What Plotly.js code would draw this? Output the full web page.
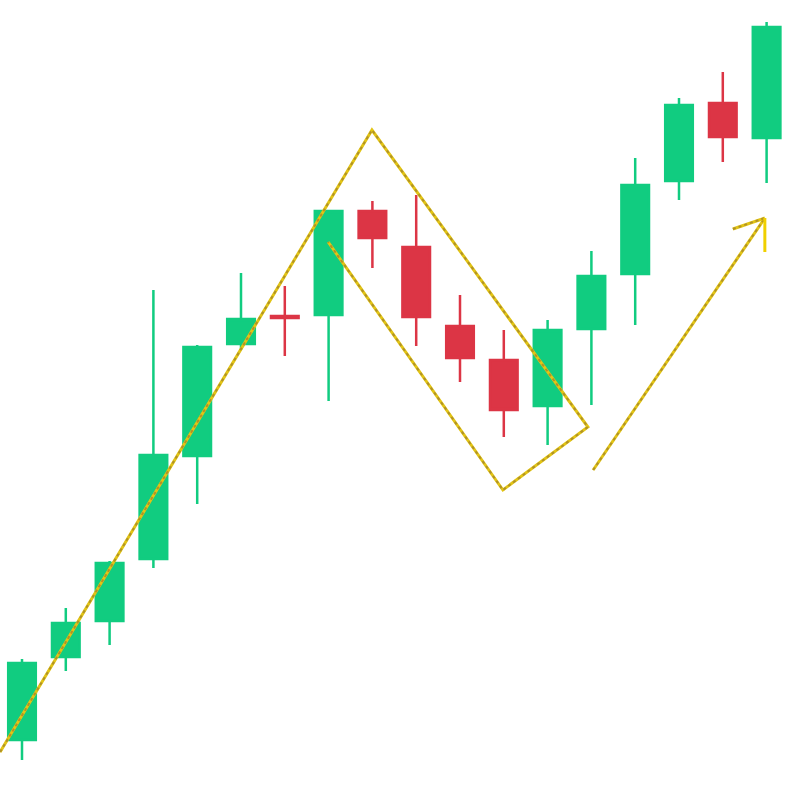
<!DOCTYPE html>
<html>
<head>
<meta charset="utf-8">
<script src="https://cdn.plot.ly/plotly-3.0.1.min.js"></script>
<style>html,body{margin:0;padding:0;background:#fff;}#chart{width:800px;height:800px;}</style>
</head>
<body>
<div id="chart"></div>
<script>
var idx   = [0,1,2,3,4,5,6,7,8,9,10,11,12,13,14,15,16,17];
var open  = [60,143,179,241,344,456,484,485,589,553,474,440,394,471,526,619,697,662];
var high  = [141,192,239,510,455,527,514,590,599,605,505,470,480,549,642,702,728,778];
var low   = [40,129,155,232,296,450,444,399,532,454,418,363,355,395,475,600,638,617];
var close = [137,177,237,345,453,481,482,589,562,483,442,390,470,524,615,695,663,773];

// pattern lines (in candle-index / price units)
var zigX = [-0.5, 7.99, 12.92, 10.98, 6.99];
var zigY = [48, 670, 373, 310, 558];
var arrowX = [13.04, 16.96];
var arrowY = [330, 582];
var headX = [16.23, 16.96, 16.96];
var headY = [571, 582, 548];

var gold = '#e2c414';
var dots = '#b09228';
function seg(xs, ys){
  return [
    {type:'scatter', mode:'lines', x:xs, y:ys, line:{color:gold, width:3}, hoverinfo:'none', showlegend:false},
    {type:'scatter', mode:'lines', x:xs, y:ys, line:{color:dots, width:2, dash:'dot'}, hoverinfo:'none', showlegend:false}
  ];
}
var traces = [
  {type:'candlestick', x:idx, open:open, high:high, low:low, close:close,
   increasing:{line:{color:'#11cc80', width:2.5}, fillcolor:'#11cc80'},
   decreasing:{line:{color:'#dc3545', width:2.5}, fillcolor:'#dc3545'},
   hoverinfo:'none', showlegend:false}
].concat(seg(zigX, zigY), seg(arrowX, arrowY), seg(headX.slice(0,2), headY.slice(0,2)),
  [{type:'scatter', mode:'lines', x:headX.slice(1), y:headY.slice(1), line:{color:'#f0d000', width:3}, hoverinfo:'none', showlegend:false}]);

var layout = {
  width:800, height:800,
  margin:{l:0,r:0,t:0,b:0},
  paper_bgcolor:'#ffffff', plot_bgcolor:'#ffffff',
  boxgap:0.1, boxgroupgap:0.3,
  xaxis:{range:[-22/43.8, 778/43.8], visible:false, rangeslider:{visible:false}, fixedrange:true},
  yaxis:{range:[0,800], visible:false, fixedrange:true},
  showlegend:false
};
Plotly.newPlot('chart', traces, layout, {staticPlot:true, displayModeBar:false});
</script>
</body>
</html>
